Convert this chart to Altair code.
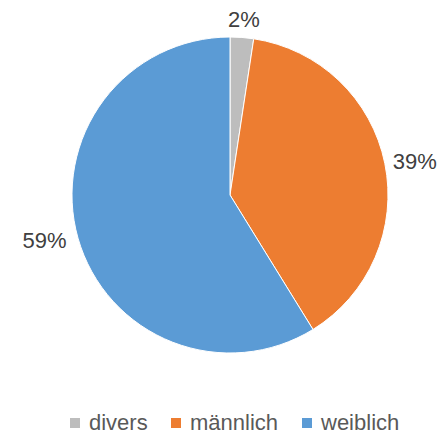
import altair as alt
import pandas as pd

categories = ["divers", "männlich", "weiblich"]
values = [2.4, 38.8, 58.8]
labels = ["2%", "39%", "59%"]
order_idx = [0, 1, 2]
colors = ["#BDBDBD", "#ED7D31", "#5B9BD5"]

df = pd.DataFrame({"cat": categories, "value": values, "label": labels, "idx": order_idx})

CX, CY, R = 222, 187, 158
TAU = 6.283185307179586

base = alt.Chart(df).transform_window(
    cum="sum(value)", sort=[alt.SortField("idx")], frame=[None, 0]
).transform_calculate(
    start="datum.cum - datum.value",
    mid="datum.cum - datum.value/2",
)

theta_scale = alt.Scale(domain=[0, 100], range=[0, TAU])

arc = base.mark_arc(stroke="white", strokeWidth=1, outerRadius=R).encode(
    theta=alt.Theta("start:Q", scale=theta_scale),
    theta2="cum:Q",
    x=alt.value(CX),
    y=alt.value(CY),
    color=alt.Color(
        "cat:N",
        scale=alt.Scale(domain=categories, range=colors),
        legend=alt.Legend(
            title=None,
            orient="none",
            direction="horizontal",
            legendX=56,
            legendY=404,
            symbolType="square",
            symbolSize=100,
            symbolStrokeWidth=0,
            labelFontSize=22,
            labelFont="Liberation Sans",
            labelColor="#595959",
            labelOffset=3,
            columnPadding=17,
            padding=0,
        ),
    ),
)

def lab(cat, align, baseline, r):
    return base.transform_filter(alt.datum.cat == cat).mark_text(
        radius=r, align=align, baseline=baseline, fontSize=22,
        font="Liberation Sans", color="#404040",
    ).encode(
        theta=alt.Theta("mid:Q", scale=theta_scale),
        x=alt.value(CX),
        y=alt.value(CY),
        text="label:N",
    )

chart = alt.layer(
    arc,
    lab("divers", "center", "top", 186),
    lab("männlich", "left", "middle", 166),
    lab("weiblich", "right", "middle", 170),
).properties(
    width=430, height=426, autosize=alt.AutoSizeParams(type="none"), padding=0
).configure_view(stroke=None)

chart.save("out.html", embed_options={"renderer": "svg", "actions": False})
